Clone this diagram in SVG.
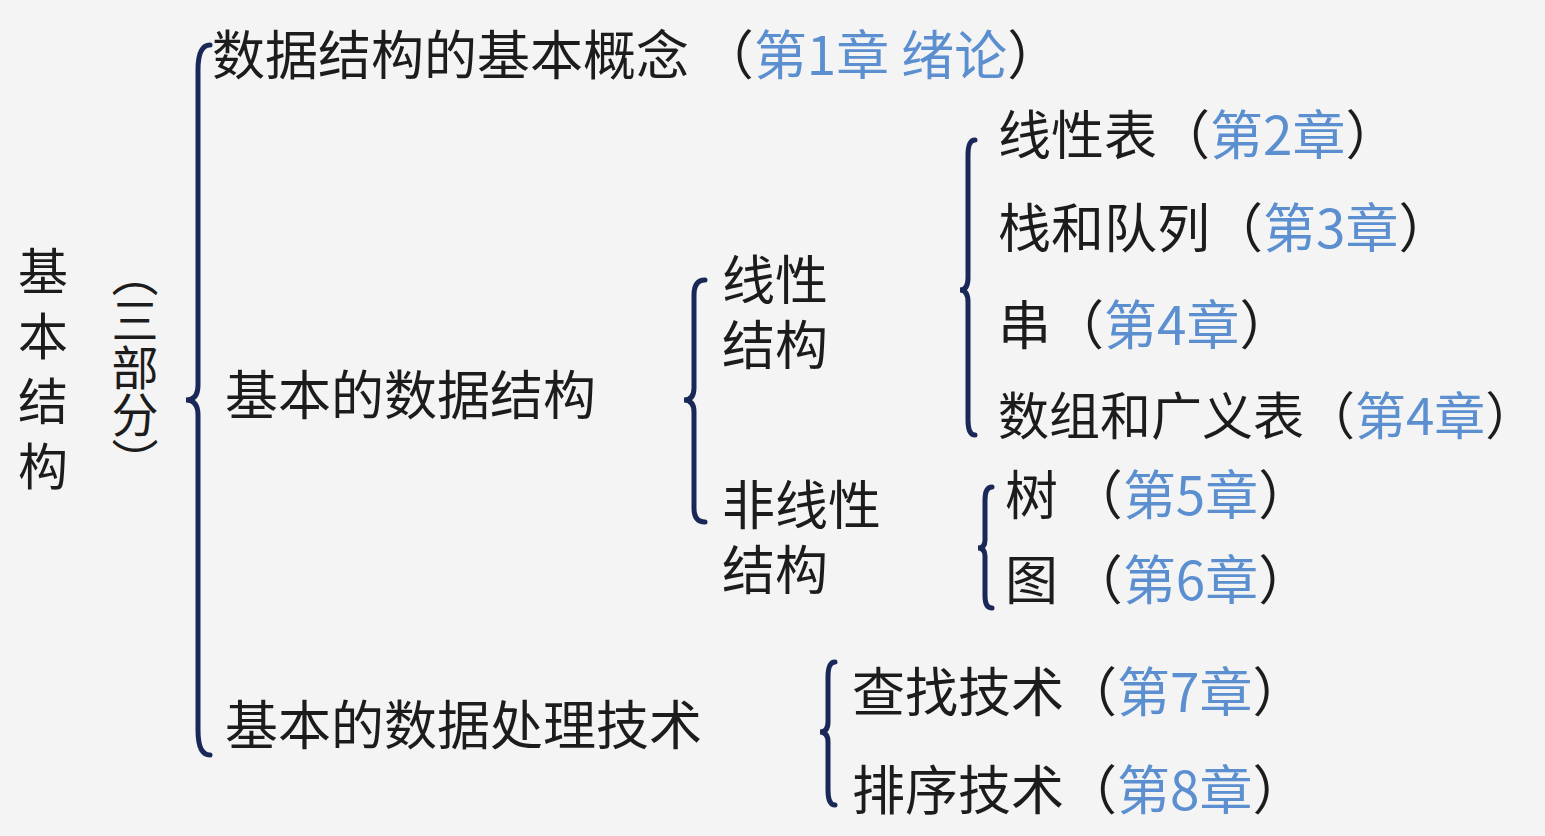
<svg xmlns="http://www.w3.org/2000/svg" width="1545" height="836" viewBox="0 0 1545 836">
<style>
text{font-family:"Noto Sans CJK SC","Noto Sans",sans-serif;font-size:53px;fill:#1c1c1c}
.v{font-size:50px}
.b{fill:#5b8fd0}
.br{fill:none;stroke:#1a2858;stroke-width:5;stroke-linecap:round}
</style>
<rect width="1545" height="836" fill="#f4f4f4"/>
<g id="connectors">
<path class="br" d="M210,45 Q198,45 198,70 L198,385 Q198,400 186,400 Q198,400 198,415 L198,730 Q198,755 210,755"/>
<path class="br" d="M705,280 Q694,280 694,295 L694,388 Q694,400 684,400 Q694,400 694,412 L694,508 Q694,522 705,522"/>
<path class="br" d="M975,140 Q968,140 968,155 L968,278 Q968,290 960,290 Q968,290 968,302 L968,420 Q968,435 975,435"/>
<path class="br" d="M992,487 Q985,487 985,500 L985,540 Q985,548 978,548 Q985,548 985,556 L985,596 Q985,608 992,608"/>
<path class="br" d="M835,662 Q828,662 828,677 L828,722 Q828,732 820,732 Q828,732 828,742 L828,790 Q828,805 835,805"/>
</g>
<g id="root">
<text class="v" x="18" y="290">基</text><text class="v" x="18" y="355">本</text><text class="v" x="18" y="420">结</text><text class="v" x="18" y="485">构</text>
<text x="135" y="250" writing-mode="vertical-rl" style="font-size:47px">（三部分）</text>
</g>
<g id="n1"><text x="212" y="75">数据结构的基本概念 （<tspan class="b">第1章 绪论</tspan>）</text></g>
<g id="n2"><text x="225" y="415">基本的数据结构</text></g>
<g id="n3"><text x="225" y="745">基本的数据处理技术</text></g>
<g id="n4"><text x="722" y="300">线性</text><text x="722" y="365">结构</text></g>
<g id="n5"><text x="722" y="525">非线性</text><text x="722" y="590">结构</text></g>
<g id="n6"><text x="998" y="155">线性表（<tspan class="b">第2章</tspan>）</text></g>
<g id="n7"><text x="998" y="248">栈和队列（<tspan class="b">第3章</tspan>）</text></g>
<g id="n8"><text x="998" y="345">串（<tspan class="b">第4章</tspan>）</text></g>
<g id="n9"><text x="998" y="435" style="font-size:51px">数组和广义表（<tspan class="b">第4章</tspan>）</text></g>
<g id="n10"><text x="1005" y="515">树 （<tspan class="b">第5章</tspan>）</text></g>
<g id="n11"><text x="1005" y="600">图 （<tspan class="b">第6章</tspan>）</text></g>
<g id="n12"><text x="852" y="712">查找技术（<tspan class="b">第7章</tspan>）</text></g>
<g id="n13"><text x="852" y="810">排序技术（<tspan class="b">第8章</tspan>）</text></g>
</svg>
